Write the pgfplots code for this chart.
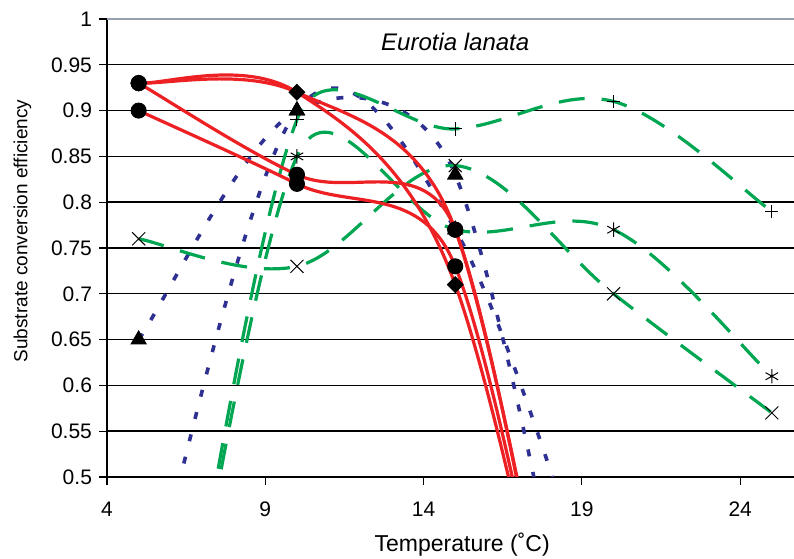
\documentclass[border=0pt]{standalone}
\usepackage{pgfplots}
\usepackage{pgfplotstable}
\pgfplotsset{compat=1.18}
\usepackage{fontspec}
\setmainfont{Liberation Sans}
\definecolor{xred}{RGB}{237,32,36}
\definecolor{xblue}{RGB}{46,49,146}
\definecolor{xgreen}{RGB}{0,166,81}
\definecolor{xtop}{RGB}{150,160,175}

% ---- Excel-like smoothing plot handler (Bezier, arm = min(d02/6, d12/2)) ----
\makeatletter
\newcount\xl@n
\gdef\xl@ax{0}\gdef\xl@ay{0}\gdef\xl@bx{0}\gdef\xl@by{0}
\gdef\xl@cx{0}\gdef\xl@cy{0}\gdef\xl@dx{0}\gdef\xl@dy{0}
\def\pgfplothandlerexcel{%
  \def\pgf@plotstreamstart{%
    \global\xl@n=0\relax
    \global\let\pgf@plotstreampoint=\xl@point
    \global\let\pgf@plotstreamspecial=\pgfutil@gobble
    \global\let\pgf@plotstreamend=\xl@end
  }%
}
\def\xl@point#1{%
  \pgf@process{#1}%
  \global\advance\xl@n by 1\relax
  \global\let\xl@ax=\xl@bx \global\let\xl@ay=\xl@by
  \global\let\xl@bx=\xl@cx \global\let\xl@by=\xl@cy
  \global\let\xl@cx=\xl@dx \global\let\xl@cy=\xl@dy
  \xdef\xl@dx{\pgf@sys@tonumber\pgf@x}%
  \xdef\xl@dy{\pgf@sys@tonumber\pgf@y}%
  \ifnum\xl@n=1\relax
    \pgfpathmoveto{\pgfqpoint{\xl@dx pt}{\xl@dy pt}}%
  \fi
  \ifnum\xl@n=3\relax
    \xl@seg{\xl@bx}{\xl@by}{\xl@bx}{\xl@by}{\xl@cx}{\xl@cy}{\xl@dx}{\xl@dy}%
  \fi
  \ifnum\xl@n>3\relax
    \xl@seg{\xl@ax}{\xl@ay}{\xl@bx}{\xl@by}{\xl@cx}{\xl@cy}{\xl@dx}{\xl@dy}%
  \fi
}
\def\xl@end{%
  \ifnum\xl@n=2\relax
    \xl@seg{\xl@cx}{\xl@cy}{\xl@cx}{\xl@cy}{\xl@dx}{\xl@dy}{\xl@dx}{\xl@dy}%
  \fi
  \ifnum\xl@n>2\relax
    \xl@seg{\xl@bx}{\xl@by}{\xl@cx}{\xl@cy}{\xl@dx}{\xl@dy}{\xl@dx}{\xl@dy}%
  \fi
}
\def\xl@seg#1#2#3#4#5#6#7#8{%
  \begingroup
  \pgfmathsetmacro\xl@dot{veclen(((#5)-(#3))/100,((#6)-(#4))/100)*100}%
  \pgfmathsetmacro\xl@dzt{veclen(((#5)-(#1))/100,((#6)-(#2))/100)*100}%
  \pgfmathsetmacro\xl@dth{veclen(((#7)-(#3))/100,((#8)-(#4))/100)*100}%
  \pgfmathsetmacro\xl@fa{(\xl@dzt/6<\xl@dot/2) ? 1/6 : \xl@dot/(2*max(\xl@dzt,0.001))}%
  \pgfmathsetmacro\xl@fb{(\xl@dth/6<\xl@dot/2) ? 1/6 : \xl@dot/(2*max(\xl@dth,0.001))}%
  \pgfmathsetmacro\xl@pax{(#3)+\xl@fa*((#5)-(#1))}%
  \pgfmathsetmacro\xl@pay{(#4)+\xl@fa*((#6)-(#2))}%
  \pgfmathsetmacro\xl@pbx{(#5)-\xl@fb*((#7)-(#3))}%
  \pgfmathsetmacro\xl@pby{(#6)-\xl@fb*((#8)-(#4))}%
  \xdef\xl@res{\noexpand\pgfpathcurveto{\noexpand\pgfqpoint{\xl@pax pt}{\xl@pay pt}}{\noexpand\pgfqpoint{\xl@pbx pt}{\xl@pby pt}}{\noexpand\pgfqpoint{#5pt}{#6pt}}}%
  \endgroup
  \xl@res
}
\tikzset{excel smooth/.code={\let\tikz@plot@handler=\pgfplothandlerexcel}}
\makeatother

% ---- data ----
% red series
\pgfplotstableread{
x y
5 0.93
10 0.92
15 0.77
20 -0.05
}\rA
\pgfplotstableread{
x y
5 0.93
10 0.92
15 0.71
20 -0.03
}\rB
\pgfplotstableread{
x y
5 0.93
10 0.83
15 0.77
20 -0.08
}\rC
\pgfplotstableread{
x y
5 0.90
10 0.82
15 0.73
20 -0.05
}\rD
% blue series
\pgfplotstableread{
x y
5 0.65
10 0.90
15 0.83
20 0.07
}\bA
\pgfplotstableread{
x y
5 0.32
10 0.90
15 0.77
20 0.30
}\bB
% green series
\pgfplotstableread{
x y
5 0.00
10 0.89
15 0.88
20 0.91
25 0.79
}\gP
\pgfplotstableread{
x y
5 0.00
10 0.85
15 0.77
20 0.77
25 0.61
}\gS
\pgfplotstableread{
x y
5 0.76
10 0.73
15 0.84
20 0.70
25 0.57
}\gX

\begin{document}
\begin{tikzpicture}
\path[use as bounding box] (-53.5pt,-40.5pt) rectangle (343.5pt,238.5pt);
\begin{axis}[
  at={(0,0)}, anchor=south west,
  scale only axis, width=343.5pt, height=229pt,
  xmin=4, xmax=25.7, ymin=0.5, ymax=1,
  xtick={4,9,14,19,24},
  ytick={0.5,0.55,0.6,0.65,0.7,0.75,0.8,0.85,0.9,0.95,1},
  yticklabels={0.5,0.55,0.6,0.65,0.7,0.75,0.8,0.85,0.9,0.95,1},
  axis x line*=bottom, axis y line*=left,
  ymajorgrids, grid style={black, line width=0.7pt},
  tick align=outside, major tick length=4pt,
  tick style={black, line width=0.6pt},
  axis line style={black, line width=0.6pt},
  tick label style={font=\fontsize{10.5}{12}\selectfont},
  xticklabel style={yshift=-5pt},
  /pgf/number format/assume math mode=true,
  xlabel={Temperature (˚C)},
  ylabel={Substrate conversion efficiency},
  xlabel style={font=\fontsize{11.5}{13}\selectfont, at={(axis description cs:0.517,-0.148)}, anchor=center},
  ylabel style={font=\fontsize{9.5}{11}\selectfont, at={(axis description cs:-0.123,0.537)}, anchor=center},
  clip=true,
  redl/.style={xred, line width=1.6pt, excel smooth, mark=none},
  bluel/.style={xblue, line width=1.8pt, dash pattern=on 3.5pt off 8pt, excel smooth, mark=none},
  greenl/.style={xgreen, line width=1.6pt, dash pattern=on 13pt off 8.5pt, excel smooth, mark=none},
  mk/.style={only marks, black, restrict y to domain=0.45:1.05},
]
\draw[xtop, line width=0.8pt] (rel axis cs:0,1) -- (rel axis cs:1,1);
% lines
\addplot[bluel] table {\bA};
\addplot[bluel] table {\bB};
\addplot[greenl] table {\gP};
\addplot[greenl] table {\gS};
\addplot[greenl] table {\gX};
\addplot[redl] table {\rA};
\addplot[redl] table {\rB};
\addplot[redl] table {\rC};
\addplot[redl] table {\rD};
% markers
\addplot[mk, mark=triangle*, mark size=4.4pt] table {\bA};
\addplot[mk, mark=triangle*, mark size=4.4pt] table {\bB};
\addplot[mk, mark=*, mark size=3.8pt, skip coords between index={1}{2}] table {\rA};
\addplot[mk, mark=*, mark size=3.8pt] table {\rC};
\addplot[mk, mark=*, mark size=3.8pt] table {\rD};
\addplot[mk, mark=square*, mark size=2.8pt, mark options={rotate=45}] table {\rB};
\addplot[mk, mark=+, mark size=3.3pt, mark options={line width=0.5pt}] table {\gP};
\addplot[mk, mark=asterisk, mark size=3.6pt, mark options={line width=0.5pt}] table {\gS};
\addplot[mk, mark=x, mark size=4.6pt, mark options={line width=0.5pt}] table {\gX};
\node[font=\fontsize{12}{14}\selectfont\itshape] at (axis cs:15,0.975) {Eurotia lanata};
\end{axis}
\end{tikzpicture}
\end{document}
